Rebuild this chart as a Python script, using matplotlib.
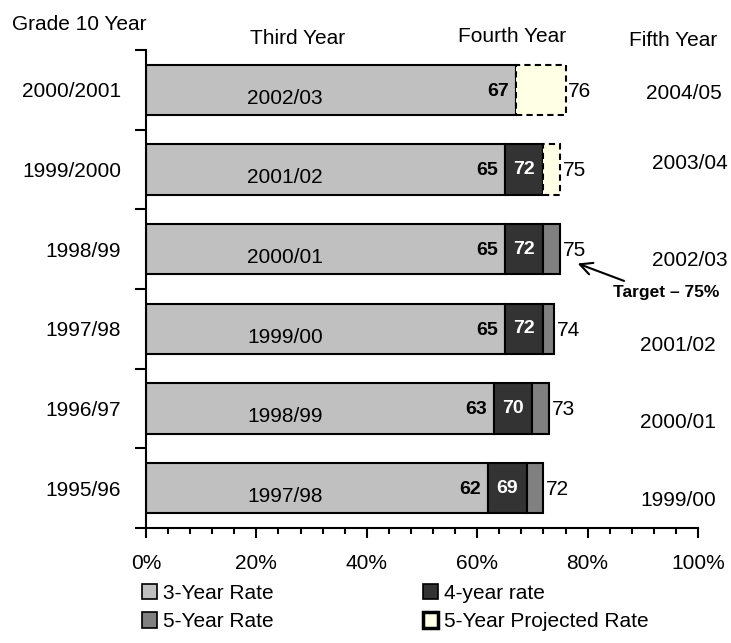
import numpy as np
import matplotlib
matplotlib.use("Agg")
import matplotlib.pyplot as plt
from matplotlib.patches import Patch

plt.rcParams['font.family'] = ['Liberation Sans', 'DejaVu Sans']

# cohorts, bottom to top
cohorts = ['1995/96', '1996/97', '1997/98', '1998/99', '1999/2000', '2000/2001']
third_year = ['1997/98', '1998/99', '1999/00', '2000/01', '2001/02', '2002/03']
fifth_year = ['1999/00', '2000/01', '2001/02', '2002/03', '2003/04', '2004/05']

rate3 = [62, 63, 65, 65, 65, 67]
rate4 = [69, 70, 72, 72, 72, np.nan]
rate5 = [72, 73, 74, 75, np.nan, np.nan]
rate5_proj = [np.nan, np.nan, np.nan, np.nan, 75, 76]

c3, c4, c5, cproj = '#c0c0c0', '#333333', '#808080', '#ffffe6'

W, H = 731, 643
fig = plt.figure(figsize=(W / 100, H / 100), dpi=100)
ax = fig.add_axes([146 / W, 1 - 528 / H, (698 - 146) / W, (528 - 50) / H])

y = np.arange(len(cohorts))
bh = 0.63

# hand placement of the right-hand year labels (x in %, y nudge in points)
fifth_x = [96.4, 96.4, 96.4, 98.6, 98.6, 97.5]
fifth_dy = [-8.6, -10, -12.2, -8, 4.3, -2.9]

for i in range(len(cohorts)):
    a = rate3[i]
    ax.barh(y[i], a, height=bh, color=c3, edgecolor='black', linewidth=1.5, zorder=2)
    top = a
    if not np.isnan(rate4[i]):
        ax.barh(y[i], rate4[i] - a, left=a, height=bh, color=c4,
                edgecolor='black', linewidth=1.5, zorder=2)
        ax.annotate(f'{int(rate4[i])}', ((a + rate4[i]) / 2, y[i]), ha='center', va='center',
                    color='white', fontsize=14, fontweight='bold', zorder=4)
        top = rate4[i]
    if not np.isnan(rate5[i]):
        ax.barh(y[i], rate5[i] - top, left=top, height=bh, color=c5,
                edgecolor='black', linewidth=1.5, zorder=2)
        end = rate5[i]
    else:
        ax.barh(y[i], rate5_proj[i] - top, left=top, height=bh, color=cproj,
                edgecolor='black', linewidth=1.5, linestyle=(0, (3, 2)), zorder=3)
        end = rate5_proj[i]
    # 3-year value
    ax.annotate(f'{a}', (a, y[i]), xytext=(-5, -1), textcoords='offset points',
                ha='right', va='center', fontsize=14, fontweight='bold', zorder=4)
    # final value
    ax.annotate(f'{int(end)}', (end, y[i]), xytext=(2, -1), textcoords='offset points',
                ha='left', va='center', fontsize=15, zorder=4)
    # third-year label inside the bar
    ax.annotate(third_year[i], (25.2, y[i]), xytext=(0, -6), textcoords='offset points',
                ha='center', va='center', fontsize=15, zorder=4)
    # fifth-year label on the right
    ax.annotate(fifth_year[i], (fifth_x[i], y[i]), xytext=(0, fifth_dy[i]), textcoords='offset points',
                ha='center', va='center', fontsize=15, annotation_clip=False, zorder=4)

ax.annotate('Target – 75%', xy=(78.2, 2.82), xytext=(94.2, 2.46),
            ha='center', va='center', fontsize=12.5, fontweight='bold',
            annotation_clip=False,
            arrowprops=dict(arrowstyle='->,head_length=0.7,head_width=0.35',
                            relpos=(0.2, 1.0), shrinkA=2, shrinkB=0, lw=1.5, color='black'))

ax.set_xlim(0, 100)
ax.set_ylim(-0.5, len(cohorts) - 0.5)
ax.set_xticks(np.arange(0, 101, 20))
ax.set_xticklabels([f'{v}%' for v in range(0, 101, 20)], fontsize=15)
ax.set_xticks(np.arange(0, 101, 4), minor=True)
ax.tick_params(axis='x', which='major', length=7, width=1.5, pad=12)
ax.tick_params(axis='x', which='minor', length=4, width=1.5)

ax.set_yticks(y)
ax.set_yticklabels(cohorts, fontsize=15)
ax.set_yticks(np.arange(-0.5, len(cohorts), 1), minor=True)
ax.tick_params(axis='y', which='major', length=0, pad=18)
ax.tick_params(axis='y', which='minor', length=8, width=1.5)

for s in ['top', 'right']:
    ax.spines[s].set_visible(False)
for s in ['left', 'bottom']:
    ax.spines[s].set_linewidth(1.5)

fig.text(79 / W, 1 - 25 / H, 'Grade 10 Year', ha='center', va='center', fontsize=15)
fig.text(298 / W, 1 - 38 / H, 'Third Year', ha='center', va='center', fontsize=15)
fig.text(512 / W, 1 - 36 / H, 'Fourth Year', ha='center', va='center', fontsize=15)
fig.text(673 / W, 1 - 41 / H, 'Fifth Year', ha='center', va='center', fontsize=15)

handles = [
    Patch(facecolor=c3, edgecolor='black', linewidth=1.2, label='3-Year Rate'),
    Patch(facecolor=c5, edgecolor='black', linewidth=1.2, label='5-Year Rate'),
    Patch(facecolor=c4, edgecolor='black', linewidth=1.2, label='4-year rate'),
    Patch(facecolor=cproj, edgecolor='black', linewidth=2.5, label='5-Year Projected Rate'),
]
fig.legend(handles=handles, ncol=2, loc='upper left', bbox_to_anchor=(142 / W, 1 - 584 / H),
           frameon=False, fontsize=15, handlelength=0.7, handleheight=0.75,
           handletextpad=0.3, labelspacing=0.45, columnspacing=7.2, borderaxespad=0, borderpad=0)

fig.savefig('out.png', dpi=100)
